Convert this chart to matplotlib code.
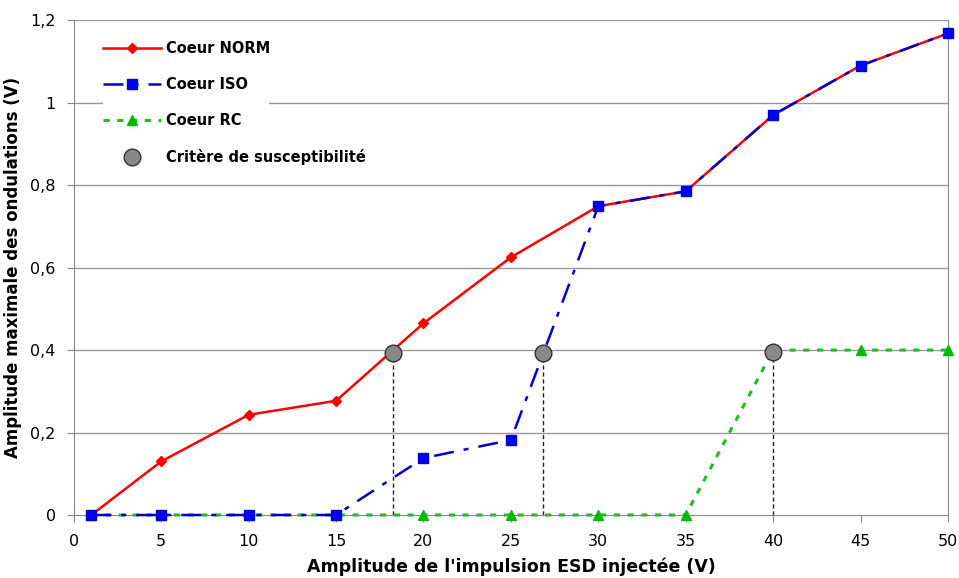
import matplotlib.pyplot as plt
from matplotlib.patches import Rectangle
from matplotlib.ticker import FuncFormatter

plt.rcParams['font.family'] = ['DejaVu Sans']

# data
x = [1, 5, 10, 15, 20, 25, 30, 35, 40, 45, 50]
norm = [0, 0.13, 0.243, 0.277, 0.465, 0.625, 0.749, 0.785, 0.97, 1.09, 1.168]
iso = [0, 0, 0, 0, 0.138, 0.182, 0.749, 0.785, 0.97, 1.09, 1.168]
rc = [0, 0, 0, 0, 0, 0, 0, 0, 0.40, 0.40, 0.40]
crit_x = [18.25, 26.85, 40.0]
crit_y = [0.393, 0.393, 0.395]

fig = plt.figure(figsize=(9.59, 5.78), dpi=100)
ax = fig.add_axes([0.077, 0.109, 0.9115, 0.856])

for yy in [0.2, 0.4, 0.6, 0.8, 1.0, 1.2]:
    ax.axhline(yy, color='#9a9a9a', lw=1.0, zorder=0)

# white legend background hiding part of the 1.0 gridline
ax.add_patch(Rectangle((0.033, 0.78), 0.19, 0.06, transform=ax.transAxes,
                       facecolor='white', edgecolor='none', zorder=1))

# vertical dashed lines from the criteria points
for cx, cy in zip(crit_x, crit_y):
    ax.plot([cx, cx], [0, cy], color='#222222', lw=1.0, ls=(0, (3, 2)), zorder=2)

ax.plot(x, norm, color='#ff0000', lw=1.8, marker='D', ms=5, mfc='#ff0000',
        mec='#ff0000', label='Coeur NORM', zorder=3, clip_on=False)
ax.plot(x, iso, color='#0000cc', lw=1.8, ls=(0, (8, 4, 2, 4)), marker='s', ms=7,
        mfc='#0000ff', mec='#0000cc', label='Coeur ISO', zorder=4, clip_on=False)
ax.plot(x, rc, color='#22bb22', lw=2.2, ls=(0, (2, 2.5)), marker='^', ms=7,
        mfc='#00bb00', mec='#00bb00', label='Coeur RC', zorder=3.5, clip_on=False)
ax.plot(crit_x, crit_y, ls='none', marker='o', ms=12, mfc='#888888',
        mec='#333333', mew=1.0, label='Critère de susceptibilité', zorder=5)

ax.set_xlim(0, 50)
ax.set_ylim(0, 1.2)
ax.set_xticks(range(0, 51, 5))
ax.set_yticks([0, 0.2, 0.4, 0.6, 0.8, 1.0, 1.2])
ax.yaxis.set_major_formatter(FuncFormatter(lambda v, p: ('%g' % round(v, 1)).replace('.', ',')))

for side in ['left', 'bottom', 'right']:
    ax.spines[side].set_color('#888888')
ax.spines['top'].set_visible(False)
ax.tick_params(axis='both', colors='#888888', labelcolor='black', labelsize=11.5, length=5)
ax.tick_params(axis='y', pad=8)
ax.tick_params(axis='x', pad=9)

ax.set_xlabel("Amplitude de l'impulsion ESD injectée (V)", fontsize=12.5, fontweight='bold', labelpad=6)
ax.set_ylabel('Amplitude maximale des ondulations (V)', fontsize=12, fontweight='bold', labelpad=6)

leg = ax.legend(loc='upper left', bbox_to_anchor=(0.01, 1.0), frameon=False,
                prop={'weight': 'bold', 'size': 10.5},
                handlelength=4.0, labelspacing=1.45, borderpad=0.9, handletextpad=0.3)
leg.set_zorder(6)

fig.savefig('out.png', dpi=100)
